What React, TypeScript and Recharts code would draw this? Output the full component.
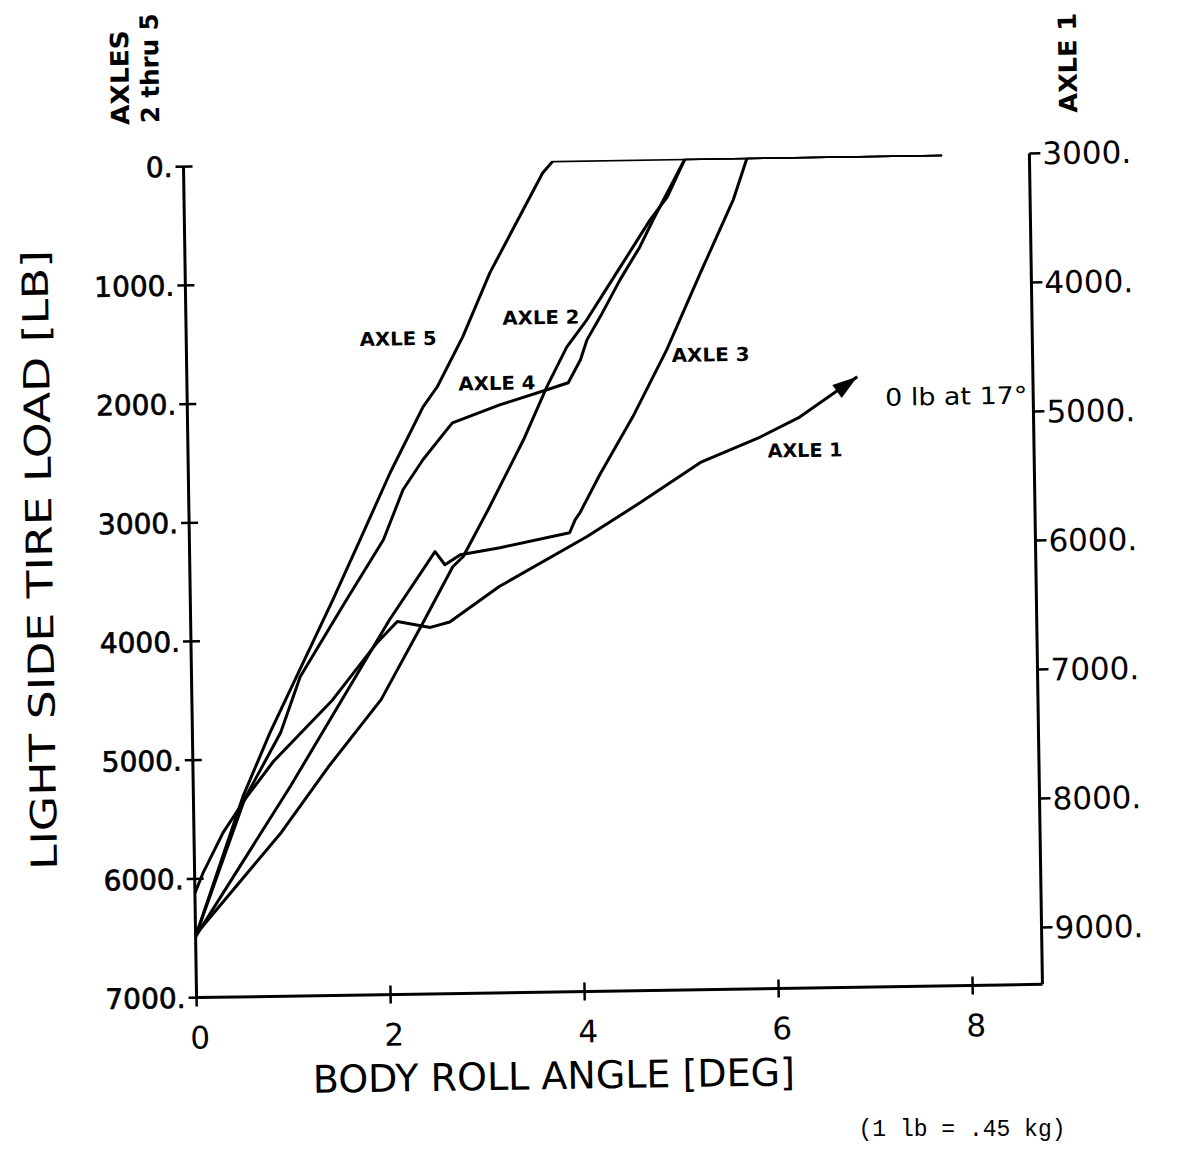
import React from 'react';
import { LineChart, Line, XAxis, YAxis } from 'recharts';

// Body roll angle (deg) and light side tire load (lb)
const axle1Angles = [0, 0.09, 0.3, 0.55, 0.83, 1.45, 1.92, 2.13, 2.47, 2.67, 3.19, 4.1, 4.65, 5.28, 5.9, 6.31, 6.91];
const axle1Loads = [8630, 8470, 8165, 7890, 7620, 7150, 6710, 6550, 6600, 6560, 6290, 5915, 5660, 5355, 5165, 5015, 4710];

const axle2Angles = [0, 0.9, 1.4, 1.95, 2.41, 2.71, 2.82, 3.1, 3.46, 3.71, 3.92, 4.13, 4.35, 4.62, 4.8, 4.98, 5.17, 7.82];
const axle2Loads = [6470, 5620, 5070, 4515, 3850, 3405, 3320, 2905, 2345, 1900, 1570, 1345, 1070, 735, 510, 320, 0, 0];

const axle3Angles = [0, 1.0, 2.05, 2.53, 2.63, 2.79, 3.2, 3.92, 3.98, 4.03, 4.24, 4.59, 4.95, 5.31, 5.66, 5.81, 7.82];
const axle3Loads = [6486, 5235, 3843, 3276, 3387, 3305, 3251, 3134, 3025, 2967, 2650, 2166, 1607, 963, 353, 0, 0];

const axle4Angles = [0, 0.53, 0.91, 1.12, 1.61, 2.0, 2.21, 2.42, 2.67, 2.73, 3.22, 3.71, 3.93, 4.06, 4.13, 4.27, 4.48, 4.69, 4.83, 5.17, 7.82];
const axle4Loads = [6486, 5330, 4779, 4311, 3669, 3169, 2750, 2500, 2251, 2193, 2048, 1927, 1871, 1679, 1512, 1320, 1011, 736, 511, 0, 0];

const axle5Angles = [0, 0.51, 0.8, 1.47, 1.76, 2.08, 2.43, 2.58, 2.85, 3.14, 3.7, 3.81, 7.82];
const axle5Loads = [6486, 5314, 4778, 3667, 3165, 2605, 2054, 1887, 1470, 935, 100, 0, 0];

const angleTicks = [0, 2, 4, 6, 8];
const loadTicks = [0, 1000, 2000, 3000, 4000, 5000, 6000, 7000];
const axle1LoadTicks = [3000, 4000, 5000, 6000, 7000, 8000, 9000];

const toPoints = (angles: number[], loads: number[]) =>
  angles.map((a, i) => ({ angle: a, load: loads[i] }));

const axle1 = toPoints(axle1Angles, axle1Loads);
const axle2 = toPoints(axle2Angles, axle2Loads);
const axle3 = toPoints(axle3Angles, axle3Loads);
const axle4 = toPoints(axle4Angles, axle4Loads);
const axle5 = toPoints(axle5Angles, axle5Loads);

const FONT = '"DejaVu Sans", "Liberation Sans", sans-serif';

const LeftTick = (props: any) => {
  const { x, y, payload } = props;
  return (
    <g>
      <line x1={x - 8} x2={x + 9} y1={y} y2={y} stroke="#000" strokeWidth={2.5} />
      <text x={x - 11} y={y} dy="0.36em" textAnchor="end" fontFamily={FONT} fontSize={28} fill="#000" stroke="#000" strokeWidth={0.7}>
        {`${payload.value}.`}
      </text>
    </g>
  );
};

const RightTick = (props: any) => {
  const { x, y, payload } = props;
  return (
    <g>
      <line x1={x} x2={x + 11} y1={y} y2={y} stroke="#000" strokeWidth={2.5} />
      <text x={x + 13} y={y} dy="0.36em" textAnchor="start" fontFamily={FONT} fontSize={31} fill="#000">
        {`${payload.value}.`}
      </text>
    </g>
  );
};

const BottomTick = (props: any) => {
  const { x, y, payload } = props;
  return (
    <g>
      <line x1={x} x2={x} y1={y - 9} y2={y + 9} stroke="#000" strokeWidth={2.5} />
      <text x={x + 3} y={y + 51} textAnchor="middle" fontFamily={FONT} fontSize={31} fill="#000">
        {payload.value}
      </text>
    </g>
  );
};

const ArrowDot = (props: any) => {
  const { cx, cy, index } = props;
  if (index !== axle1Angles.length - 1) return <g key={`a${index}`} />;
  return (
    <polygon
      key={`a${index}`}
      points="0,0 -25,-8 -25,8"
      transform={`translate(${cx},${cy}) rotate(-35)`}
      fill="#000"
    />
  );
};

const lineStyle = {
  type: 'linear' as const,
  stroke: '#000',
  strokeWidth: 3,
  strokeLinejoin: 'round' as const,
  activeDot: false as const,
  isAnimationActive: false,
};

const W = 1165;
const H = 1135;

export default function App() {
  return (
    <div style={{ position: 'absolute', left: 8, top: 8, width: W, height: 1143, overflow: 'hidden', background: '#fff' }}>
      <div
        style={{
          position: 'absolute',
          left: 0,
          top: 0,
          width: W,
          height: H,
          transform: 'rotate(-0.9deg)',
          transformOrigin: '605px 569px',
        }}
      >
        <LineChart width={W} height={H} margin={{ top: 152, right: 17, bottom: 92, left: 82 }}>
          <XAxis
            dataKey="angle"
            type="number"
            domain={[0, 8.72]}
            ticks={angleTicks}
            interval={0}
            allowDataOverflow
            tickSize={0}
            tickMargin={0}
            tickLine={false}
            axisLine={{ stroke: '#000', strokeWidth: 3 }}
            tick={(p: any) => <BottomTick {...p} />}
            height={60}
          />
          <YAxis
            yAxisId="left"
            orientation="left"
            type="number"
            domain={[0, 7000]}
            reversed
            ticks={loadTicks}
            interval={0}
            allowDataOverflow
            tickSize={0}
            tickMargin={0}
            tickLine={false}
            axisLine={{ stroke: '#000', strokeWidth: 3 }}
            tick={(p: any) => <LeftTick {...p} />}
            width={100}
          />
          <YAxis
            yAxisId="right"
            orientation="right"
            type="number"
            domain={[3000, 9440]}
            reversed
            ticks={axle1LoadTicks}
            interval={0}
            allowDataOverflow
            tickSize={0}
            tickMargin={0}
            tickLine={false}
            axisLine={{ stroke: '#000', strokeWidth: 3 }}
            tick={(p: any) => <RightTick {...p} />}
            width={120}
          />
          <Line yAxisId="left" data={axle5} dataKey="load" name="AXLE 5" dot={false} {...lineStyle} />
          <Line yAxisId="left" data={axle4} dataKey="load" name="AXLE 4" dot={false} {...lineStyle} />
          <Line yAxisId="left" data={axle3} dataKey="load" name="AXLE 3" dot={false} {...lineStyle} />
          <Line yAxisId="left" data={axle2} dataKey="load" name="AXLE 2" dot={false} {...lineStyle} />
          <Line yAxisId="right" data={axle1} dataKey="load" name="AXLE 1" dot={(p: any) => <ArrowDot {...p} />} {...lineStyle} />
        </LineChart>
        <svg
          width={W}
          height={H}
          style={{ position: 'absolute', left: 0, top: 0, pointerEvents: 'none' }}
          fontFamily={FONT}
        >
          <text transform="translate(32,543) rotate(-90)" textAnchor="middle" dominantBaseline="central" fontSize={36} textLength={620} lengthAdjust="spacingAndGlyphs" fill="#000">
            LIGHT SIDE TIRE LOAD [LB]
          </text>
          <text x={538} y={1067} textAnchor="middle" dominantBaseline="central" fontSize={38} textLength={482} lengthAdjust="spacingAndGlyphs" fill="#000">
            BODY ROLL ANGLE [DEG]
          </text>
          <text transform="translate(120,62) rotate(-90)" textAnchor="middle" dominantBaseline="central" fontSize={25} fontWeight="bold" textLength={95} lengthAdjust="spacingAndGlyphs" fill="#000">
            AXLES
          </text>
          <text transform="translate(150,53) rotate(-90)" textAnchor="middle" dominantBaseline="central" fontSize={25} fontWeight="bold" textLength={110} lengthAdjust="spacingAndGlyphs" fill="#000">
            2 thru 5
          </text>
          <text transform="translate(1068,62) rotate(-90)" textAnchor="middle" dominantBaseline="central" fontSize={25} fontWeight="bold" textLength={100} lengthAdjust="spacingAndGlyphs" fill="#000">
            AXLE 1
          </text>
          <text x={394} y={327} textAnchor="middle" dominantBaseline="central" fontSize={19} fontWeight="bold" textLength={77} lengthAdjust="spacingAndGlyphs" fill="#000">AXLE 5</text>
          <text x={537} y={308} textAnchor="middle" dominantBaseline="central" fontSize={19} fontWeight="bold" textLength={77} lengthAdjust="spacingAndGlyphs" fill="#000">AXLE 2</text>
          <text x={492} y={373} textAnchor="middle" dominantBaseline="central" fontSize={19} fontWeight="bold" textLength={77} lengthAdjust="spacingAndGlyphs" fill="#000">AXLE 4</text>
          <text x={706} y={348} textAnchor="middle" dominantBaseline="central" fontSize={19} fontWeight="bold" textLength={78} lengthAdjust="spacingAndGlyphs" fill="#000">AXLE 3</text>
          <text x={799} y={445} textAnchor="middle" dominantBaseline="central" fontSize={19} fontWeight="bold" textLength={75} lengthAdjust="spacingAndGlyphs" fill="#000">AXLE 1</text>
          <text x={951} y={394} textAnchor="middle" dominantBaseline="central" fontSize={24} textLength={142} lengthAdjust="spacingAndGlyphs" fill="#000">0 lb at 17°</text>
        </svg>
      </div>
      <svg width={W} height={1143} style={{ position: 'absolute', left: 0, top: 0, pointerEvents: 'none' }}>
        <text x={954} y={1122} textAnchor="middle" dominantBaseline="central" fontFamily='"Liberation Mono", "DejaVu Sans Mono", monospace' fontSize={23} fill="#000">
          (1 lb = .45 kg)
        </text>
      </svg>
    </div>
  );
}
